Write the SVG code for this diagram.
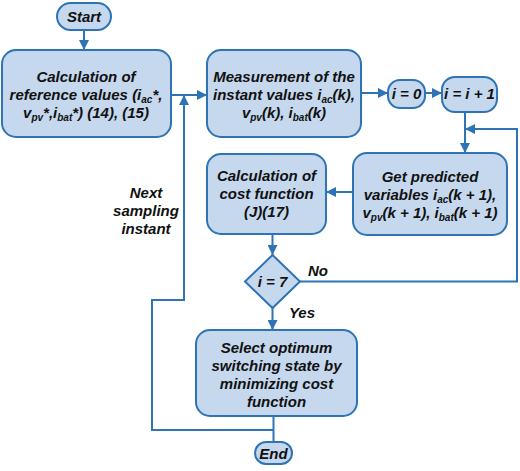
<svg xmlns="http://www.w3.org/2000/svg" width="520" height="471" viewBox="0 0 520 471">
<defs>
<marker id="ah" viewBox="0 0 10 10" refX="10" refY="5" markerWidth="10" markerHeight="10" markerUnits="userSpaceOnUse" orient="auto">
<path d="M0,0 L10,5 L0,10 Z" fill="#2e74b5"/>
</marker>
<style>
.n{fill:#c5d8ee;stroke:#2e74b5;stroke-width:2}
.t{font-family:"Liberation Sans",Arial,sans-serif;font-weight:bold;font-style:italic;font-size:15px;fill:#111;text-anchor:middle}
.l{fill:none;stroke:#2e74b5;stroke-width:2}
.s{font-size:10px}
</style>
</defs>
<rect width="520" height="471" fill="#fff"/>
<g id="start"><rect class="n" x="57" y="3" width="54" height="27" rx="13.5"/><text class="t" x="84" y="22">Start</text></g>
<g id="calcref"><rect class="n" x="2" y="50" width="169" height="87" rx="14"/>
<text class="t" x="86" y="82">Calculation of</text>
<text class="t" x="86" y="100">reference values (i<tspan class="s" dy="3">ac</tspan><tspan dy="-3">*,</tspan></text>
<text class="t" x="86" y="118">v<tspan class="s" dy="3">pv</tspan><tspan dy="-3">*,i</tspan><tspan class="s" dy="3">bat</tspan><tspan dy="-3">*) (14), (15)</tspan></text></g>
<g id="measure"><rect class="n" x="207" y="50" width="154" height="87" rx="14"/>
<text class="t" x="284" y="82">Measurement of the</text>
<text class="t" x="284" y="100">instant values i<tspan class="s" dy="3">ac</tspan><tspan dy="-3">(k),</tspan></text>
<text class="t" x="284" y="118">v<tspan class="s" dy="3">pv</tspan><tspan dy="-3">(k), i</tspan><tspan class="s" dy="3">bat</tspan><tspan dy="-3">(k)</tspan></text></g>
<g id="i0"><rect class="n" x="388" y="80" width="37" height="28" rx="12"/><text class="t" x="406.5" y="99">i = 0</text></g>
<g id="iinc"><rect class="n" x="442" y="77" width="55" height="35" rx="13"/><text class="t" x="469.5" y="99">i = i + 1</text></g>
<g id="predict"><rect class="n" x="353" y="153" width="154" height="82" rx="14"/>
<text class="t" x="430" y="182">Get predicted</text>
<text class="t" x="430" y="200">variables i<tspan class="s" dy="3">ac</tspan><tspan dy="-3">(k + 1),</tspan></text>
<text class="t" x="430" y="218">v<tspan class="s" dy="3">pv</tspan><tspan dy="-3">(k + 1), i</tspan><tspan class="s" dy="3">bat</tspan><tspan dy="-3">(k + 1)</tspan></text></g>
<g id="cost"><rect class="n" x="207" y="154" width="119" height="80" rx="14"/>
<text class="t" x="266.5" y="181">Calculation of</text>
<text class="t" x="266.5" y="199">cost function</text>
<text class="t" x="266.5" y="217">(J)(17)</text></g>
<g id="decision"><path class="n" d="M272.5,255 L300,281.5 L272.5,308 L245,281.5 Z"/><text class="t" x="272.5" y="287">i = 7</text></g>
<g id="select"><rect class="n" x="196" y="330" width="161" height="86" rx="14"/>
<text class="t" x="276.5" y="353">Select optimum</text>
<text class="t" x="276.5" y="371">switching state by</text>
<text class="t" x="276.5" y="389">minimizing cost</text>
<text class="t" x="276.5" y="407">function</text></g>
<g id="end"><rect class="n" x="255" y="442" width="37" height="22" rx="11"/><text class="t" x="273.5" y="459">End</text></g>
<g id="connectors">
<path class="l" d="M84,30 V50" marker-end="url(#ah)"/>
<path class="l" d="M171,95 H207" marker-end="url(#ah)"/>
<path class="l" d="M361,93 H388" marker-end="url(#ah)"/>
<path class="l" d="M425,93 H442" marker-end="url(#ah)"/>
<path class="l" d="M465,112 V153" marker-end="url(#ah)"/>
<path class="l" d="M353,192 H326" marker-end="url(#ah)"/>
<path class="l" d="M272.5,234 V255" marker-end="url(#ah)"/>
<path class="l" d="M300,281.5 H517 V129 H465" marker-end="url(#ah)"/>
<path class="l" d="M272.5,308 V330" marker-end="url(#ah)"/>
<path class="l" d="M273.5,416 V442"/>
<path class="l" d="M273.5,430 H152 V300 H184 V95" marker-end="url(#ah)"/>
<text class="t" x="318" y="276">No</text>
<text class="t" x="302" y="318">Yes</text>
<text class="t" x="146" y="198">Next</text>
<text class="t" x="146" y="216">sampling</text>
<text class="t" x="146" y="234">instant</text>
</g>
</svg>
